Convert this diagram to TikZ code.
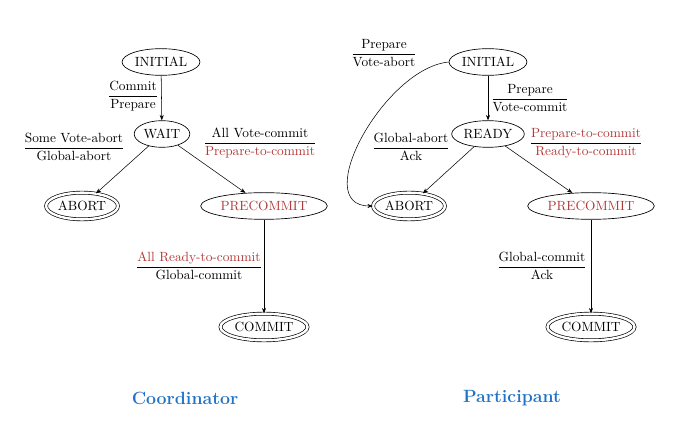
\documentclass[tikz,border=0pt]{standalone}
\usepackage{amsmath}
\usetikzlibrary{shapes.geometric,arrows.meta}
\newlength{\du}
\setlength{\du}{0.75pt}
\definecolor{msgred}{rgb}{0.70,0.22,0.22}
\definecolor{titleblue}{rgb}{0.13,0.45,0.78}
\tikzset{
  state/.style={ellipse,draw,line width=0.5pt,inner xsep=1pt,minimum height=20pt},
  finalstate/.style={state,double,double distance=1.8pt},
  trans/.style={-{Stealth[length=4pt,width=3pt]},line width=0.4pt},
  msg/.style={inner sep=0pt},
  sidetitle/.style={font=\fontsize{13.3}{16}\selectfont\bfseries,text=titleblue}
}
\newcommand{\msgfrac}[2]{$\dfrac{\text{#1}}{\text{#2}}$}
\begin{document}
\begin{tikzpicture}
\pgftransformxscale{1.000000}
\pgftransformyscale{-1.000000}
\useasboundingbox (0\du,0\du) rectangle (688\du,423\du);
% coordinator
\node[state] (cinit) at (161\du,62\du){INITIAL};
\node[state] (cwait) at (162\du,134\du){WAIT};
\node[finalstate] (cabort) at (82\du,206\du){ABORT};
\node[state,text=msgred] (cprec) at (264\du,206\du){PRECOMMIT};
\node[finalstate] (ccommit) at (264\du,327\du){COMMIT};
\node[msg] (cm1) at (133\du,96\du){\msgfrac{Commit}{Prepare}};
\node[msg] (cm2) at (74\du,147\du){\msgfrac{Some Vote-abort}{Global-abort}};
\node[msg] (cm3) at (260\du,143\du){\msgfrac{All Vote-commit}{\color{msgred}Prepare-to-commit}};
\node[msg] (cm4) at (199\du,266\du){\msgfrac{\color{msgred}All Ready-to-commit}{Global-commit}};
\node[sidetitle] (ctitle) at (185\du,398\du){Coordinator};
\draw[trans] (cinit) -- (cwait);
\draw[trans] (cwait) -- (cabort);
\draw[trans] (cwait) -- (cprec);
\draw[trans] (cprec) -- (ccommit);
% participant
\node[state] (pinit) at (488\du,62\du){INITIAL};
\node[state] (pready) at (488\du,134\du){READY};
\node[finalstate] (pabort) at (409\du,206\du){ABORT};
\node[state,text=msgred] (pprec) at (591\du,206\du){PRECOMMIT};
\node[finalstate] (pcommit) at (591\du,327\du){COMMIT};
\node[msg] (pm1) at (384\du,53\du){\msgfrac{Prepare}{Vote-abort}};
\node[msg] (pm2) at (530\du,98\du){\msgfrac{Prepare}{Vote-commit}};
\node[msg] (pm3) at (411\du,147\du){\msgfrac{Global-abort}{Ack}};
\node[msg] (pm4) at (586\du,143\du){\msgfrac{\color{msgred}Prepare-to-commit}{\color{msgred}Ready-to-commit}};
\node[msg] (pm5) at (542\du,266\du){\msgfrac{Global-commit}{Ack}};
\node[sidetitle] (ptitle) at (512\du,398\du){Participant};
\draw[trans] (pinit) -- (pready);
\draw[trans] (pready) -- (pabort);
\draw[trans] (pready) -- (pprec);
\draw[trans] (pprec) -- (pcommit);
\draw[trans] (pinit.west) .. controls +(-64\du,6\du) and +(-64\du,0\du) .. (pabort.west);
\end{tikzpicture}
\end{document}
